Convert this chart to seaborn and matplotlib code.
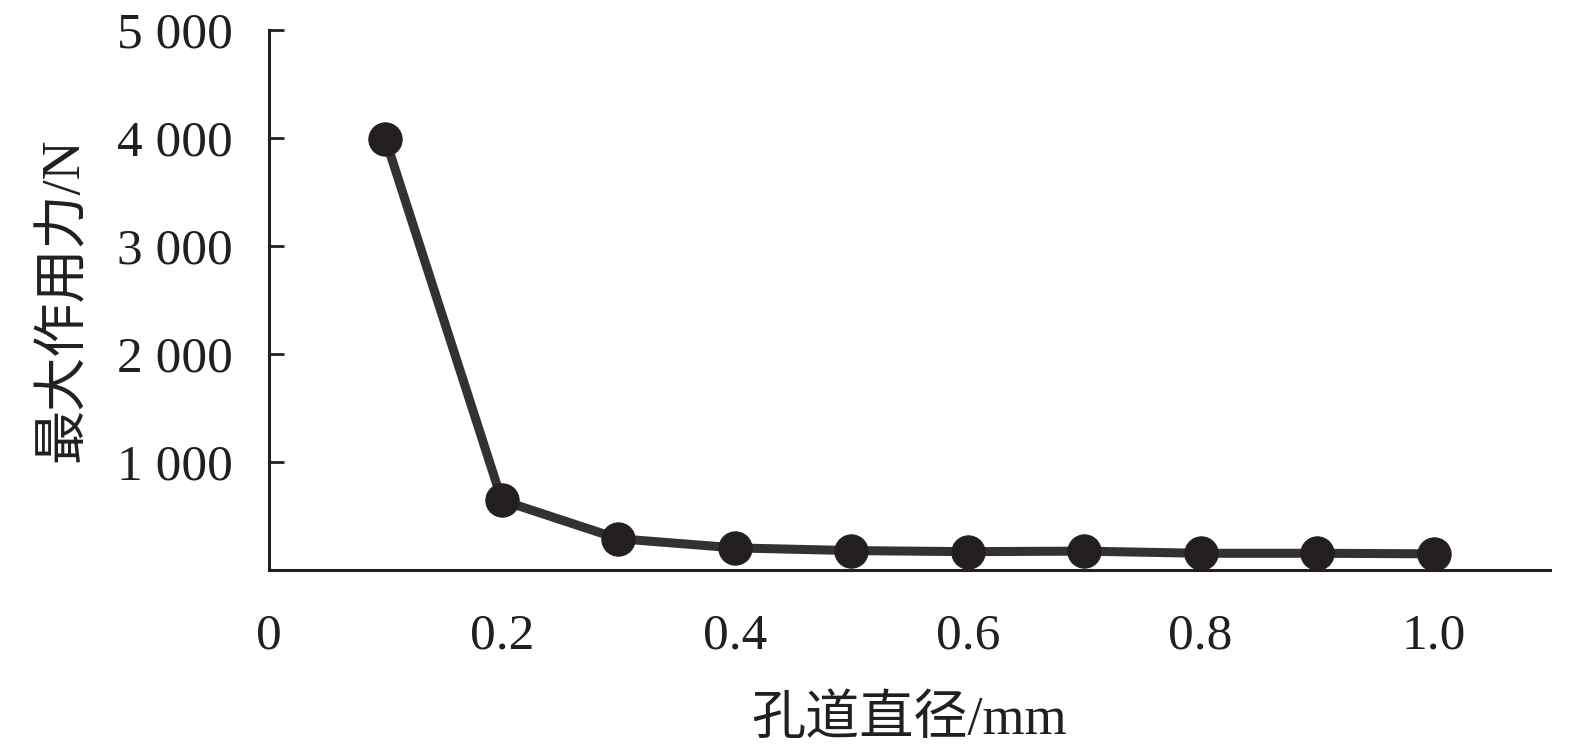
import numpy as np
import pandas as pd
import matplotlib
matplotlib.use('Agg')
import matplotlib.pyplot as plt
import seaborn as sns
from matplotlib.ticker import FuncFormatter

# данные
diameter = [0.1, 0.2, 0.3, 0.4, 0.5, 0.6, 0.7, 0.8, 0.9, 1.0]
force = [3990, 645, 290, 205, 180, 170, 175, 155, 155, 150]
x_ticks = [0, 0.2, 0.4, 0.6, 0.8, 1.0]
x_tick_labels = ['0', '0.2', '0.4', '0.6', '0.8', '1.0']
y_ticks = [1000, 2000, 3000, 4000, 5000]

df = pd.DataFrame({'d': diameter, 'f': force})

sns.set_theme(style='white')
plt.rcParams['font.family'] = ['Liberation Serif', 'Noto Sans CJK SC']
plt.rcParams['axes.unicode_minus'] = False

fig = plt.figure(figsize=(15.75, 7.52), dpi=100)
ax = fig.add_axes([0.1708, 0.242, 0.8133, 0.718])

sns.lineplot(data=df, x='d', y='f', ax=ax, color='#333132', linewidth=6.5,
             marker='o', markersize=24, markerfacecolor='#231f20',
             markeredgecolor='#231f20')

ax.set_xlim(0, 1.1)
ax.set_ylim(0, 5000)
ax.set_xticks(x_ticks)
ax.set_xticklabels(x_tick_labels)
ax.set_yticks(y_ticks)
ax.yaxis.set_major_formatter(FuncFormatter(lambda v, p: f'{int(v):,}'.replace(',', ' ')))

for s in ['top', 'right']:
    ax.spines[s].set_visible(False)
for s in ['left', 'bottom']:
    ax.spines[s].set_linewidth(2.2)
    ax.spines[s].set_color('#231f20')

ax.tick_params(axis='y', left=True, direction='in', length=11, width=2, color='#231f20',
               labelsize=37, pad=26, labelcolor='#231f20')
ax.tick_params(axis='x', bottom=False, length=0, labelsize=37, pad=31, labelcolor='#231f20')

ax.set_xlabel('孔道直径/mm', fontsize=39, color='#231f20', labelpad=26)
ax.set_ylabel('最大作用力/N', fontsize=39, color='#231f20', labelpad=20)

fig.savefig('out.png', dpi=100)
